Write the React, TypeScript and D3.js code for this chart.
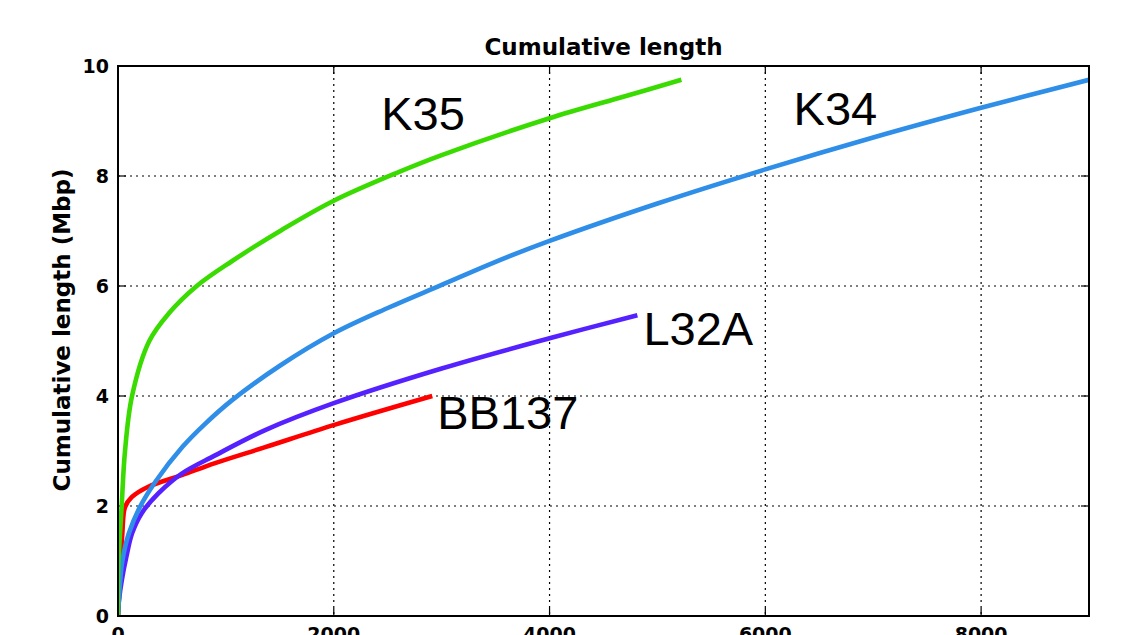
import { useRef, useEffect } from 'react';
import * as d3 from 'd3';

const WIDTH = 1122;
const HEIGHT = 635;
const MARGIN = { top: 66, right: 33, bottom: 19, left: 118 };

const X_TICKS = [0, 2000, 4000, 6000, 8000];
const Y_TICKS = [0, 2, 4, 6, 8, 10];

// contig rank vs cumulative length (Mbp)
const K35_X = [0, 3, 34, 65, 130, 290, 470, 730, 1055, 1518, 2000, 2600, 3000, 4000, 4700, 5222];
const K35_Y = [0, 0.9, 2.0, 3.0, 4.0, 5.0, 5.5, 6.0, 6.45, 7.02, 7.55, 8.07, 8.38, 9.05, 9.45, 9.75];

const K34_X = [0, 15, 40, 100, 200, 350, 600, 800, 1055, 1500, 2000, 2500, 3000, 3500, 4000, 5000, 6000, 7000, 8000, 9000];
const K34_Y = [0, 0.5, 1.0, 1.5, 1.97, 2.45, 3.08, 3.48, 3.92, 4.55, 5.14, 5.6, 6.02, 6.44, 6.82, 7.5, 8.12, 8.7, 9.24, 9.75];

const L32A_X = [0, 10, 35, 80, 130, 220, 374, 591, 900, 1364, 2000, 3000, 4000, 4814];
const L32A_Y = [0, 0.3, 0.65, 1.1, 1.5, 1.87, 2.23, 2.59, 2.92, 3.38, 3.87, 4.5, 5.05, 5.47];

const BB137_X = [0, 20, 40, 65, 127, 281, 591, 900, 1364, 2013, 2913];
const BB137_Y = [0, 0.8, 1.5, 1.98, 2.16, 2.35, 2.56, 2.78, 3.07, 3.48, 4.0];

const SERIES = [
  { name: 'BB137', xs: BB137_X, ys: BB137_Y, color: '#ff0000', lx: 2959, ly: 3.4 },
  { name: 'L32A', xs: L32A_X, ys: L32A_Y, color: '#5522ff', lx: 4870, ly: 4.93 },
  { name: 'K34', xs: K34_X, ys: K34_Y, color: '#2f8ee8', lx: 6262, ly: 8.92 },
  { name: 'K35', xs: K35_X, ys: K35_Y, color: '#3adb00', lx: 2440, ly: 8.84 },
];

export default function App() {
  const svgRef = useRef<SVGSVGElement>(null);

  useEffect(() => {
    if (!svgRef.current) return;
    const svg = d3.select(svgRef.current);
    svg.selectAll('*').remove();

    const innerW = WIDTH - MARGIN.left - MARGIN.right;
    const innerH = HEIGHT - MARGIN.top - MARGIN.bottom;

    const x = d3.scaleLinear().domain([0, 9000]).range([0, innerW]);
    const y = d3.scaleLinear().domain([0, 10]).range([innerH, 0]);

    const g = svg.append('g').attr('transform', `translate(${MARGIN.left},${MARGIN.top})`);

    // dotted grid
    g.append('g')
      .selectAll('line')
      .data(X_TICKS.slice(1))
      .join('line')
      .attr('x1', d => x(d)).attr('x2', d => x(d))
      .attr('y1', 0).attr('y2', innerH)
      .attr('stroke', '#000').attr('stroke-width', 1.2)
      .attr('stroke-dasharray', '2,4');
    g.append('g')
      .selectAll('line')
      .data(Y_TICKS.slice(1, -1))
      .join('line')
      .attr('x1', 0).attr('x2', innerW)
      .attr('y1', d => y(d)).attr('y2', d => y(d))
      .attr('stroke', '#000').attr('stroke-width', 1.2)
      .attr('stroke-dasharray', '2,4');

    // inward ticks on all four sides
    const tickLen = 8;
    const ticks = g.append('g').attr('stroke', '#000').attr('stroke-width', 1.2);
    Y_TICKS.forEach(t => {
      ticks.append('line').attr('x1', 0).attr('x2', tickLen).attr('y1', y(t)).attr('y2', y(t));
      ticks.append('line').attr('x1', innerW).attr('x2', innerW - tickLen).attr('y1', y(t)).attr('y2', y(t));
    });
    X_TICKS.forEach(t => {
      ticks.append('line').attr('x1', x(t)).attr('x2', x(t)).attr('y1', innerH).attr('y2', innerH - tickLen);
      ticks.append('line').attr('x1', x(t)).attr('x2', x(t)).attr('y1', 0).attr('y2', tickLen);
    });

    // clipped curves
    svg.append('defs').append('clipPath').attr('id', 'plot-clip')
      .append('rect').attr('width', innerW).attr('height', innerH + 2).attr('y', -2);

    const line = d3.line<[number, number]>()
      .x(d => x(d[0]))
      .y(d => y(d[1]))
      .curve(d3.curveCatmullRom.alpha(0.5));

    const curves = g.append('g').attr('clip-path', 'url(#plot-clip)');
    SERIES.forEach(s => {
      const pts = s.xs.map((v, i) => [v, s.ys[i]] as [number, number]);
      curves.append('path')
        .attr('d', line(pts))
        .attr('fill', 'none')
        .attr('stroke', s.color)
        .attr('stroke-width', 4.6)
        .attr('stroke-linejoin', 'round');
    });

    // curve labels
    g.append('g')
      .selectAll('text')
      .data(SERIES)
      .join('text')
      .attr('x', d => x(d.lx))
      .attr('y', d => y(d.ly))
      .attr('font-family', '"Liberation Sans", Arial, sans-serif')
      .attr('font-size', 47)
      .attr('fill', '#000')
      .text(d => d.name);

    // frame
    g.append('rect')
      .attr('width', innerW).attr('height', innerH)
      .attr('fill', 'none').attr('stroke', '#000').attr('stroke-width', 2);

    const font = '"DejaVu Sans", sans-serif';

    // tick labels
    g.append('g')
      .selectAll('text')
      .data(Y_TICKS)
      .join('text')
      .attr('x', -9)
      .attr('y', d => y(d))
      .attr('dy', '0.36em')
      .attr('text-anchor', 'end')
      .attr('font-family', font)
      .attr('font-weight', 'bold')
      .attr('font-size', 19)
      .text(d => d);
    g.append('g')
      .selectAll('text')
      .data(X_TICKS)
      .join('text')
      .attr('x', d => x(d))
      .attr('y', innerH + 11)
      .attr('dy', '0.76em')
      .attr('text-anchor', 'middle')
      .attr('font-family', font)
      .attr('font-weight', 'bold')
      .attr('font-size', 19)
      .text(d => d);

    // title and y label
    svg.append('text')
      .attr('x', MARGIN.left + innerW / 2)
      .attr('y', 55)
      .attr('text-anchor', 'middle')
      .attr('font-family', font)
      .attr('font-weight', 600)
      .attr('font-size', 23)
      .text('Cumulative length');
    svg.append('text')
      .attr('transform', `translate(70,330) rotate(-90)`)
      .attr('text-anchor', 'middle')
      .attr('font-family', font)
      .attr('font-weight', 600)
      .attr('font-size', 23)
      .text('Cumulative length (Mbp)');
  }, []);

  return (
    <svg
      ref={svgRef}
      width={WIDTH}
      height={HEIGHT}
      style={{ position: 'absolute', left: 0, top: 0, background: '#fff' }}
    />
  );
}
